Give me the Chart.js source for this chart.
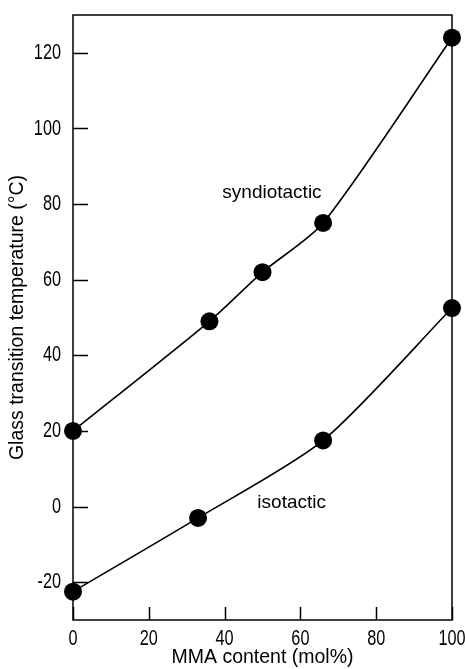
<!DOCTYPE html>
<html>
<head>
<meta charset="utf-8">
<title>Glass transition temperature vs MMA content</title>
<script src="https://cdn.jsdelivr.net/npm/chart.js@4.4.1/dist/chart.umd.min.js"></script>
<style>
  html, body { margin: 0; padding: 0; background: #fff; }
  #wrap { width: 465px; height: 669px; }
</style>
</head>
<body>
<div id="wrap"><canvas id="tg" width="465" height="669"></canvas></div>
<script>
  "use strict";

  // MMA content (mol%) and Tg (°C) for both tacticities
  const syndioMMA = [0, 36, 50, 66, 100];
  const syndioTg = [20, 49, 62, 75, 124];
  const isoMMA = [0, 33, 66, 100];
  const isoTg = [-22.5, -3, 17.5, 52.5];

  const xTicks = [0, 20, 40, 60, 80, 100];
  const yTicks = [-20, 0, 20, 40, 60, 80, 100, 120];

  const xTitle = "MMA content (mol%)";
  const yTitle = "Glass transition temperature (°C)";

  // curve labels, in data units
  const curveLabels = [
    { text: "syndiotactic", x: 52.5, y: 83 },
    { text: "isotactic", x: 57.7, y: 1 },
  ];

  const FONT = "'Liberation Sans', Arial, sans-serif";
  const INK = "#000";

  const toPoints = (xs, ys) => xs.map((x, i) => ({ x: x, y: ys[i] }));

  const seriesStyle = {
    borderColor: INK,
    borderWidth: 1.6,
    backgroundColor: INK,
    pointRadius: 9,
    pointHoverRadius: 9,
    pointBorderWidth: 0,
    tension: 0.25,
    fill: false,
    clip: false,
    showLine: true,
  };

  // narrow digits: draw with a horizontal squeeze
  function narrowText(ctx, text, x, y, align) {
    ctx.save();
    ctx.translate(x, y);
    ctx.scale(0.74, 1);
    ctx.textAlign = align;
    ctx.fillText(text, 0, 0);
    ctx.restore();
  }

  // frame, inward ticks and all the text
  const framePlugin = {
    id: "frame",
    afterDraw(chart) {
      const { ctx, chartArea: a, scales } = chart;
      ctx.save();
      ctx.strokeStyle = INK;
      ctx.lineWidth = 1.5;
      ctx.strokeRect(a.left, a.top, a.right - a.left, a.bottom - a.top);

      ctx.beginPath();
      scales.y.ticks.forEach((t) => {
        const py = Math.round(scales.y.getPixelForValue(t.value)) + 0.5;
        ctx.moveTo(a.left, py);
        ctx.lineTo(a.left + 15, py);
      });
      scales.x.ticks.forEach((t) => {
        const px = Math.round(scales.x.getPixelForValue(t.value)) + 0.5;
        ctx.moveTo(px, a.bottom);
        ctx.lineTo(px, a.bottom - 13);
      });
      ctx.stroke();

      ctx.fillStyle = INK;
      ctx.textBaseline = "middle";

      // tick labels
      ctx.font = "22px " + FONT;
      scales.y.ticks.forEach((t) => {
        narrowText(ctx, String(t.value), a.left - 12, scales.y.getPixelForValue(t.value), "right");
      });
      scales.x.ticks.forEach((t) => {
        narrowText(ctx, String(t.value), scales.x.getPixelForValue(t.value), a.bottom + 19, "center");
      });

      // axis titles
      ctx.font = "19.5px " + FONT;
      ctx.textAlign = "center";
      ctx.fillText(xTitle, (a.left + a.right) / 2, a.bottom + 38);
      ctx.save();
      ctx.translate(18, (a.top + a.bottom) / 2);
      ctx.rotate(-Math.PI / 2);
      ctx.fillText(yTitle, 0, 0);
      ctx.restore();

      // curve labels
      ctx.font = "19px " + FONT;
      curveLabels.forEach((l) => {
        ctx.fillText(l.text, scales.x.getPixelForValue(l.x), scales.y.getPixelForValue(l.y));
      });
      ctx.restore();
    },
  };

  const useTicks = (values) => (scale) => {
    scale.ticks = values.map((v) => ({ value: v }));
  };

  new Chart(document.getElementById("tg"), {
    type: "scatter",
    data: {
      datasets: [
        Object.assign({ label: "syndiotactic", data: toPoints(syndioMMA, syndioTg) }, seriesStyle),
        Object.assign({ label: "isotactic", data: toPoints(isoMMA, isoTg) }, seriesStyle),
      ],
    },
    options: {
      responsive: false,
      animation: false,
      layout: { padding: { top: 15, right: 13, left: 0, bottom: 0 } },
      plugins: { legend: { display: false }, tooltip: { enabled: false } },
      scales: {
        x: {
          type: "linear",
          min: 0,
          max: 100,
          afterBuildTicks: useTicks(xTicks),
          afterFit: (s) => { s.height = 49; },
          grid: { display: false, drawTicks: false },
          border: { display: false },
          ticks: { display: false },
        },
        y: {
          type: "linear",
          min: -30,
          max: 130,
          afterBuildTicks: useTicks(yTicks),
          afterFit: (s) => { s.width = 73; },
          grid: { display: false, drawTicks: false },
          border: { display: false },
          ticks: { display: false },
        },
      },
    },
    plugins: [framePlugin],
  });
</script>
</body>
</html>
